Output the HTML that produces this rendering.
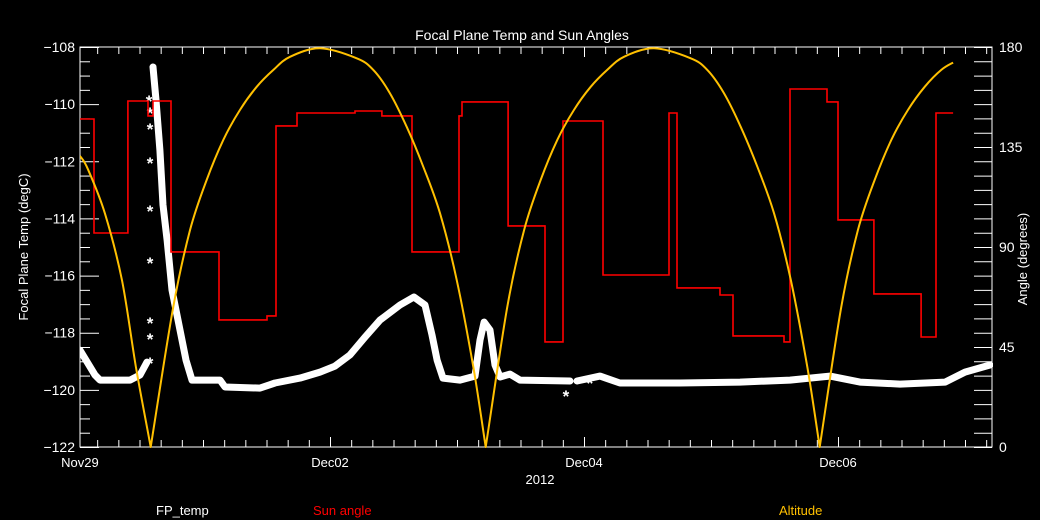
<!DOCTYPE html>
<html><head><meta charset="utf-8"><style>
html,body{margin:0;padding:0;background:#000;}
svg{display:block;font-family:"Liberation Sans",sans-serif;}
</style></head><body>
<svg id="chart" width="1040" height="520" viewBox="0 0 1040 520">
<defs><clipPath id="plotclip"><rect x="80" y="46" width="913" height="402"/></clipPath></defs>
<rect x="0" y="0" width="1040" height="520" fill="#000"/>
<text x="522" y="40" fill="#fff" font-size="14" text-anchor="middle">Focal Plane Temp and Sun Angles</text>
<text transform="translate(28,247) rotate(-90)" fill="#fff" font-size="13" text-anchor="middle">Focal Plane Temp (degC)</text>
<text transform="translate(1027,259) rotate(-90)" fill="#fff" font-size="13" text-anchor="middle">Angle (degrees)</text>
<text x="540" y="484" fill="#fff" font-size="13" text-anchor="middle">2012</text>
<text x="156" y="515" fill="#fff" font-size="13">FP_temp</text>
<text x="313" y="515" fill="#ff0000" font-size="13">Sun angle</text>
<text x="779" y="515" fill="#ffc000" font-size="13">Altitude</text>
<g id="axes"></g>
<g id="series" clip-path="url(#plotclip)"></g>
</svg>
<script>
// time in days relative to Dec02 00:00
const xTickLabels = ["Nov29","Dec02","Dec04","Dec06"];
const xTickTimes = [-1.969, 0, 2, 4];
const leftTicks = [-108,-110,-112,-114,-116,-118,-120,-122];
const rightTicks = [0,45,90,135,180];
const sunT = [-1.969,-1.858,-1.591,-1.433,-1.394,-1.252,-0.874,-0.496,-0.425,-0.260,0.197,0.409,0.646,1.016,1.039,1.402,1.693,1.835,2.150,2.669,2.732,3.071,3.173,3.575,3.622,3.913,4.0,4.283,4.654,4.772,4.906];
const sunV = [147.6,96.3,155.7,149,155.7,87.8,57.2,59,144.5,150.3,151.2,149,87.8,149,155.3,99.5,47.3,146.7,77.4,150.3,71.6,68.4,50,47.3,161.1,155.3,102.2,68.9,49.5,150.3];
const altT = [-1.969,-1.906,-1.772,-1.638,-1.528,-1.412,-1.234,-1.102,-0.971,-0.840,-0.709,-0.577,-0.446,-0.315,-0.079,0.210,0.341,0.472,0.604,0.735,0.866,0.998,1.128,1.226,1.396,1.528,1.659,1.790,1.921,2.053,2.183,2.315,2.551,2.840,2.971,3.102,3.234,3.365,3.496,3.628,3.758,3.856,4.026,4.157,4.289,4.420,4.551,4.683,4.813,4.906];
const altV = [131,125,105,75,36,0,63.1,97.6,120.2,138.2,151.7,162.1,169.7,175.6,179.4,174.9,169.7,159.2,144.1,126.1,105.2,75.2,36.1,0,63.1,97.6,120.2,138.2,151.7,162.1,169.7,175.6,179.4,174.9,169.7,159.2,144.1,126.1,105.2,75.2,36.1,0,63.1,97.6,120.2,138.2,151.7,162.1,169.7,173];
const tempT1 = [-1.969,-1.850,-1.811,-1.575,-1.496,-1.441];
const tempV1 = [-118.61,-119.48,-119.66,-119.66,-119.48,-119.03];
const tempT2 = [-1.394,-1.370,-1.339,-1.315,-1.283,-1.244,-1.181,-1.134,-1.087,-0.866,-0.827,-0.551,-0.433,-0.236,-0.079,0.039,0.157,0.276,0.394,0.551,0.661,0.748,0.803,0.843,0.890,1.024,1.142,1.181,1.213,1.260,1.299,1.339,1.417,1.496,1.890];
const tempV2 = [-108.70,-109.86,-111.61,-113.53,-114.76,-116.51,-117.91,-118.96,-119.66,-119.66,-119.90,-119.94,-119.76,-119.59,-119.38,-119.17,-118.78,-118.15,-117.56,-117.03,-116.75,-117.03,-118.08,-118.96,-119.59,-119.66,-119.52,-118.26,-117.63,-117.91,-119.13,-119.55,-119.45,-119.66,-119.69];
const tempT3 = [1.945,2.126,2.283,2.756,3.228,3.622,3.937,4.173,4.488,4.843,5.0,5.197];
const tempV3 = [-119.69,-119.52,-119.76,-119.76,-119.73,-119.66,-119.52,-119.73,-119.80,-119.73,-119.38,-119.13];
const spikeT = [-1.417,-1.417,-1.417,-1.417,-1.417,-1.417,-1.417,-1.417,-1.425,1.858,2.047];
const spikeV = [-119.03,-118.19,-117.63,-115.53,-113.71,-112.03,-110.84,-110.28,-109.86,-120.18,-119.73];

const L=80,R=992,T=47,B=447;
const X = t => 330 + 127*t;
const YL = v => T + (-108 - v)*(400/14);
const YR = v => B - v*(400/180);
const NS="http://www.w3.org/2000/svg";
const axes=document.getElementById('axes'), ser=document.getElementById('series');
function mk(tag, attrs, parent){const e=document.createElementNS(NS,tag);for(const k in attrs)e.setAttribute(k,attrs[k]);parent.appendChild(e);return e;}

const fr = mk('rect',{x:L,y:T,width:R-L,height:B-T,fill:'none',stroke:'#fff','stroke-width':1},axes);



for(let k=Math.ceil(-1.969*6);k<=Math.floor(5.213*6);k++){
  const t=k/6, x=X(t)+0.5, major=(k%12===0);
  const len = major?10:7;
  const a=mk('line',{x1:x,y1:B,x2:x,y2:B-len,stroke:'#fff'},axes);
  
  
  const b=mk('line',{x1:x,y1:T,x2:x,y2:T+len,stroke:'#fff'},axes);
  
  
}
xTickLabels.forEach((s,i)=>{
  const tx=mk('text',{x:X(xTickTimes[i]),y:467,fill:'#fff','font-size':13,'text-anchor':'middle'},axes);
  tx.textContent=s;
  
  
});
for(let i=0;i<=28;i++){
  const v=-108-i*0.5, y=YL(v)+0.5, major=(i%4===0);
  const ln=mk('line',{x1:L,y1:y,x2:L+(major?19:10),y2:y,stroke:'#fff'},axes);
  
  
  const rn=mk('line',{x1:R,y1:y,x2:R-18,y2:y,stroke:'#fff'},axes);
  
  
}
leftTicks.forEach(v=>{
  const tx=mk('text',{x:75,y:YL(v)+5,fill:'#fff','font-size':14,'text-anchor':'end'},axes);
  tx.textContent='\u2212'+Math.abs(v);
  
  
});
rightTicks.forEach(v=>{
  const tx=mk('text',{x:999,y:YR(v)+5,fill:'#fff','font-size':14},axes);
  tx.textContent=String(v);
  
  
});

function poly(ts,vs,name){
  const p=ts.map((t,i)=>X(t).toFixed(1)+','+YL(vs[i]).toFixed(1)).join(' ');
  const e=mk('polyline',{points:p,fill:'none',stroke:'#fff','stroke-width':7,'stroke-linejoin':'round','stroke-linecap':'round'},ser);
  
  
}
poly(tempT1,tempV1,'fp-temp-band-1');
poly(tempT2,tempV2,'fp-temp-band-2');
poly(tempT3,tempV3,'fp-temp-band-3');
spikeT.forEach((t,i)=>{
  const s=mk('text',{x:X(t),y:YL(spikeV[i])+7,fill:'#fff','font-size':17,'font-weight':'bold','text-anchor':'middle'},ser);
  s.textContent='*';
  
  
});

let d='';
for(let i=0;i<sunV.length;i++){
  const x1=X(sunT[i]).toFixed(1), x2=X(sunT[i+1]).toFixed(1), y=YR(sunV[i]).toFixed(1);
  d += (i===0?'M':'L')+x1+','+y+' L'+x2+','+y+' ';
}
const sp=mk('path',{d:d,fill:'none',stroke:'#ff0000','stroke-width':1.6},ser);



// altitude: smooth curve through points, sharp at zero points
const P=altT.map((t,i)=>[X(t),YR(altV[i]),altV[i]]);
let ad='M'+P[0][0].toFixed(1)+','+P[0][1].toFixed(1);
for(let i=0;i<P.length-1;i++){
  const p0=P[i-1]||P[i], p1=P[i], p2=P[i+1], p3=P[i+2]||P[i+1];
  let c1x=p1[0]+(p2[0]-p0[0])/6, c1y=p1[1]+(p2[1]-p0[1])/6;
  let c2x=p2[0]-(p3[0]-p1[0])/6, c2y=p2[1]-(p3[1]-p1[1])/6;
  if(p1[2]===0){c1x=p1[0]+(p2[0]-p1[0])/3;c1y=p1[1]+(p2[1]-p1[1])/3;}
  if(p2[2]===0){c2x=p2[0]-(p2[0]-p1[0])/3;c2y=p2[1]-(p2[1]-p1[1])/3;}
  ad+=' C'+c1x.toFixed(1)+','+c1y.toFixed(1)+' '+c2x.toFixed(1)+','+c2y.toFixed(1)+' '+p2[0].toFixed(1)+','+p2[1].toFixed(1);
}
const ap=mk('path',{d:ad,fill:'none',stroke:'#ffc000','stroke-width':2,'stroke-linejoin':'round'},ser);


</script>
</body></html>
